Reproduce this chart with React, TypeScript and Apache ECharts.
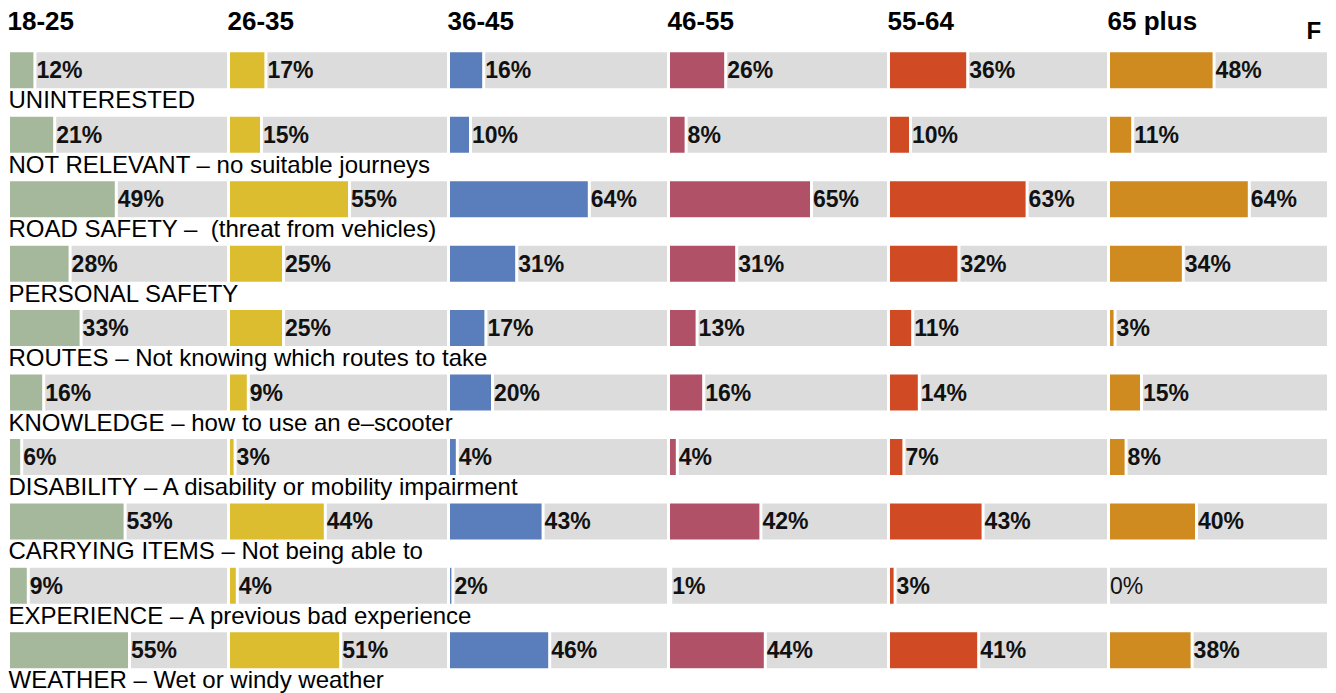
import React, { useEffect, useRef } from "react";
import * as echarts from "echarts";

const COLUMNS = ["18-25", "26-35", "36-45", "46-55", "55-64", "65 plus"];
const REASONS = [
  "UNINTERESTED",
  "NOT RELEVANT – no suitable journeys",
  "ROAD SAFETY –  (threat from vehicles)",
  "PERSONAL SAFETY",
  "ROUTES – Not knowing which routes to take",
  "KNOWLEDGE – how to use an e–scooter",
  "DISABILITY – A disability or mobility impairment",
  "CARRYING ITEMS – Not being able to",
  "EXPERIENCE – A previous bad experience",
  "WEATHER – Wet or windy weather",
];
const V_18_25 = [12, 21, 49, 28, 33, 16, 6, 53, 9, 55];
const V_26_35 = [17, 15, 55, 25, 25, 9, 3, 44, 4, 51];
const V_36_45 = [16, 10, 64, 31, 17, 20, 4, 43, 2, 46];
const V_46_55 = [26, 8, 65, 31, 13, 16, 4, 42, 1, 44];
const V_55_64 = [36, 10, 63, 32, 11, 14, 7, 43, 3, 41];
const V_65_PLUS = [48, 11, 64, 34, 3, 15, 8, 40, 0, 38];
const VALUES = [V_18_25, V_26_35, V_36_45, V_46_55, V_55_64, V_65_PLUS];
const COLORS = ["#a5b89c", "#dbbd2f", "#5a7dbb", "#b05168", "#d04b23", "#cf8a20"];
const GRAY = "#dcdcdc";

const FONT = "'Liberation Sans', Arial, Helvetica, sans-serif";

export default function App() {
  const ref = useRef<HTMLDivElement>(null);
  useEffect(() => {
    if (!ref.current) return;
    const chart = echarts.init(ref.current, null, { renderer: "svg" });
    const colW = 220;
    const left0 = 8.5;
    const gridTop = 38.1;
    const gridH = 644.4;

    const grids: any[] = [];
    const xAxes: any[] = [];
    const yAxes: any[] = [];
    const series: any[] = [];
    const titles: any[] = [];

    COLUMNS.forEach((col, i) => {
      grids.push({
        left: left0 + colW * i,
        width: colW,
        top: gridTop,
        height: gridH,
        containLabel: false,
        outerBoundsMode: "none",
      });
      xAxes.push({ type: "value", gridIndex: i, min: 0, max: 100, show: false });
      yAxes.push({
        type: "category",
        gridIndex: i,
        data: REASONS,
        inverse: true,
        show: i === 0,
        z: 10,
        axisLine: { show: false },
        axisTick: { show: false },
        splitLine: { show: false },
        axisLabel: {
          show: i === 0,
          inside: true,
          margin: 0,
          interval: 0,
          align: "left",
          verticalAlign: "middle",
          lineHeight: 59,
          formatter: (v: string) => "\n" + v,
          fontFamily: FONT,
          fontSize: 24,
          color: "#000",
        },
      });
      titles.push({
        text: col,
        left: left0 + colW * i - 1,
        top: 8,
        padding: 0,
        textStyle: { fontFamily: FONT, fontSize: 26, fontWeight: "bold", color: "#000" },
      });
      const vals = VALUES[i];
      series.push({
        type: "bar",
        xAxisIndex: i,
        yAxisIndex: i,
        stack: "s" + i,
        barWidth: 39,
        data: vals,
        itemStyle: { color: COLORS[i], borderColor: "#fff", borderWidth: 1.5 },
        silent: true,
      });
      series.push({
        type: "bar",
        xAxisIndex: i,
        yAxisIndex: i,
        stack: "s" + i,
        barWidth: 39,
        data: vals.map((v) => ({
          value: 100 - v,
          label: v === 0 ? { fontWeight: "normal" } : undefined,
        })),
        itemStyle: { color: GRAY, borderColor: "#fff", borderWidth: 1.5 },
        silent: true,
        label: {
          show: true,
          position: "insideLeft",
          distance: 1.5,
          formatter: (p: any) => vals[p.dataIndex] + "%",
          fontFamily: FONT,
          fontSize: 23,
          fontWeight: "bold",
          color: "#111",
        },
      });
    });

    titles.push({
      text: "F",
      left: 1306.5,
      top: 18.7,
      padding: 0,
      textStyle: { fontFamily: FONT, fontSize: 24, fontWeight: "bold", color: "#000" },
    });

    chart.setOption({
      animation: false,
      backgroundColor: "#fff",
      title: titles,
      grid: grids,
      xAxis: xAxes,
      yAxis: yAxes,
      series,
    });
    return () => chart.dispose();
  }, []);

  return (
    <div
      ref={ref}
      style={{ position: "fixed", left: 0, top: 0, width: 1336, height: 693 }}
    />
  );
}
